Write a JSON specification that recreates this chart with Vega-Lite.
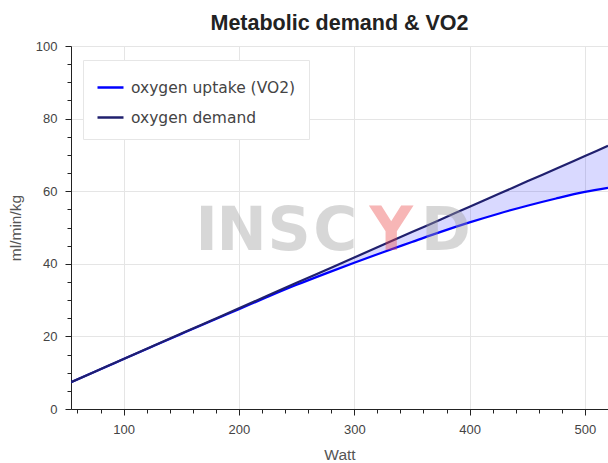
{
  "$schema": "https://vega.github.io/schema/vega-lite/v6.json",
  "width": 537,
  "height": 363,
  "autosize": {"type": "none"},
  "padding": {"left": 71, "top": 46, "right": 0, "bottom": 54},
  "title": {"text": "Metabolic demand & VO2", "font": "Liberation Sans", "fontSize": 21.5, "fontWeight": "bold", "color": "#222222", "anchor": "middle", "offset": 6},
  "config": {
    "view": {"stroke": null},
    "axis": {"labelFont": "Liberation Sans", "titleFont": "Liberation Sans", "labelColor": "#444444", "titleColor": "#555555", "domainColor": "#222222", "tickColor": "#222222", "gridColor": "#e5e5e5", "labelFontSize": 13, "titleFontSize": 15.5, "titleFontWeight": "normal"}
  },
  "datasets": {
    "curves": [
      {"w": 54.4, "uptake": 7.4, "demand": 7.4},
      {"w": 75, "uptake": 10.28, "demand": 10.28},
      {"w": 100, "uptake": 13.75, "demand": 13.77},
      {"w": 125, "uptake": 17.22, "demand": 17.27},
      {"w": 150, "uptake": 20.68, "demand": 20.77},
      {"w": 175, "uptake": 24.12, "demand": 24.26},
      {"w": 200, "uptake": 27.5, "demand": 27.75},
      {"w": 225, "uptake": 30.9, "demand": 31.25},
      {"w": 250, "uptake": 34.2, "demand": 34.75},
      {"w": 275, "uptake": 37.3, "demand": 38.24},
      {"w": 300, "uptake": 40.3, "demand": 41.73},
      {"w": 325, "uptake": 43.2, "demand": 45.23},
      {"w": 350, "uptake": 46.0, "demand": 48.73},
      {"w": 375, "uptake": 48.8, "demand": 52.22},
      {"w": 400, "uptake": 51.4, "demand": 55.72},
      {"w": 425, "uptake": 53.8, "demand": 59.21},
      {"w": 450, "uptake": 56.0, "demand": 62.71},
      {"w": 475, "uptake": 58.0, "demand": 66.2},
      {"w": 500, "uptake": 59.8, "demand": 69.7},
      {"w": 520, "uptake": 60.9, "demand": 72.5}
    ],
    "watermark": [
      {"letter": "I", "w": 172.0, "v": 43.8, "tone": "base"},
      {"letter": "N", "w": 202.3, "v": 43.8, "tone": "base"},
      {"letter": "S", "w": 243.5, "v": 43.8, "tone": "base"},
      {"letter": "C", "w": 283.5, "v": 43.8, "tone": "base"},
      {"letter": "Y", "w": 332.0, "v": 43.8, "tone": "accent"},
      {"letter": "D", "w": 379.5, "v": 43.8, "tone": "base"}
    ]
  },
  "layer": [
    {
      "data": {"name": "curves"},
      "mark": {"type": "area", "color": "#0000ff", "opacity": 0.15, "clip": true, "interpolate": "monotone"},
      "encoding": {
        "x": {"field": "w", "type": "quantitative", "scale": {"domain": [54.4, 520], "nice": false, "zero": false}, "axis": {"orient": "bottom", "values": [60, 80, 120, 140, 160, 180, 220, 240, 260, 280, 320, 340, 360, 380, 420, 440, 460, 480, 520], "labels": false, "domain": false, "grid": false, "tickSize": 4, "title": null}},
        "y": {"field": "demand", "type": "quantitative", "scale": {"domain": [0, 100], "nice": false}, "axis": {"orient": "left", "values": [5, 10, 15, 25, 30, 35, 45, 50, 55, 65, 70, 75, 85, 90, 95], "labels": false, "domain": false, "grid": false, "tickSize": 4, "title": null}},
        "y2": {"field": "uptake"}
      }
    },
    {
      "data": {"name": "curves"},
      "transform": [{"fold": ["uptake", "demand"], "as": ["series", "value"]}],
      "mark": {"type": "line", "clip": true, "interpolate": "monotone"},
      "encoding": {
        "x": {"field": "w", "type": "quantitative", "scale": {"domain": [54.4, 520], "nice": false, "zero": false}, "axis": {"orient": "bottom", "values": [100, 200, 300, 400, 500], "tickSize": 6, "labelPadding": 8, "title": "Watt", "titlePadding": 11, "grid": true}},
        "y": {"field": "value", "type": "quantitative", "scale": {"domain": [0, 100], "nice": false}, "axis": {"orient": "left", "values": [0, 20, 40, 60, 80, 100], "tickSize": 6, "labelPadding": 8, "title": "ml/min/kg", "titlePadding": 12, "grid": true}},
        "color": {"field": "series", "type": "nominal", "scale": {"domain": ["uptake", "demand"], "range": ["#0000ff", "#20206e"]}, "legend": {"orient": "none", "legendX": 12, "legendY": 14, "title": null, "fillColor": "#ffffff", "strokeColor": "#e6e6e6", "padding": 13, "symbolType": "stroke", "symbolSize": 676, "symbolStrokeWidth": 2.5, "labelFont": "DejaVu Sans", "labelFontSize": 15.5, "labelColor": "#444444", "labelLimit": 400, "rowPadding": 7, "labelOffset": 6, "labelExpr": "datum.label == 'uptake' ? 'oxygen uptake (VO2)' : 'oxygen demand'"}},
        "strokeWidth": {"value": 2.2}
      }
    },
    {
      "data": {"name": "watermark"},
      "mark": {"type": "text", "font": "DejaVu Sans", "fontWeight": "bold", "fontSize": 60, "baseline": "alphabetic", "align": "center", "opacity": 0.4},
      "encoding": {
        "x": {"field": "w", "type": "quantitative", "axis": null},
        "y": {"field": "v", "type": "quantitative", "axis": null},
        "text": {"field": "letter"},
        "fill": {"field": "tone", "type": "nominal", "scale": {"domain": ["base", "accent"], "range": ["#9e9e9e", "#ec4a4a"]}, "legend": null}
      }
    }
  ],
  "resolve": {"axis": {"x": "independent", "y": "independent"}}
}
